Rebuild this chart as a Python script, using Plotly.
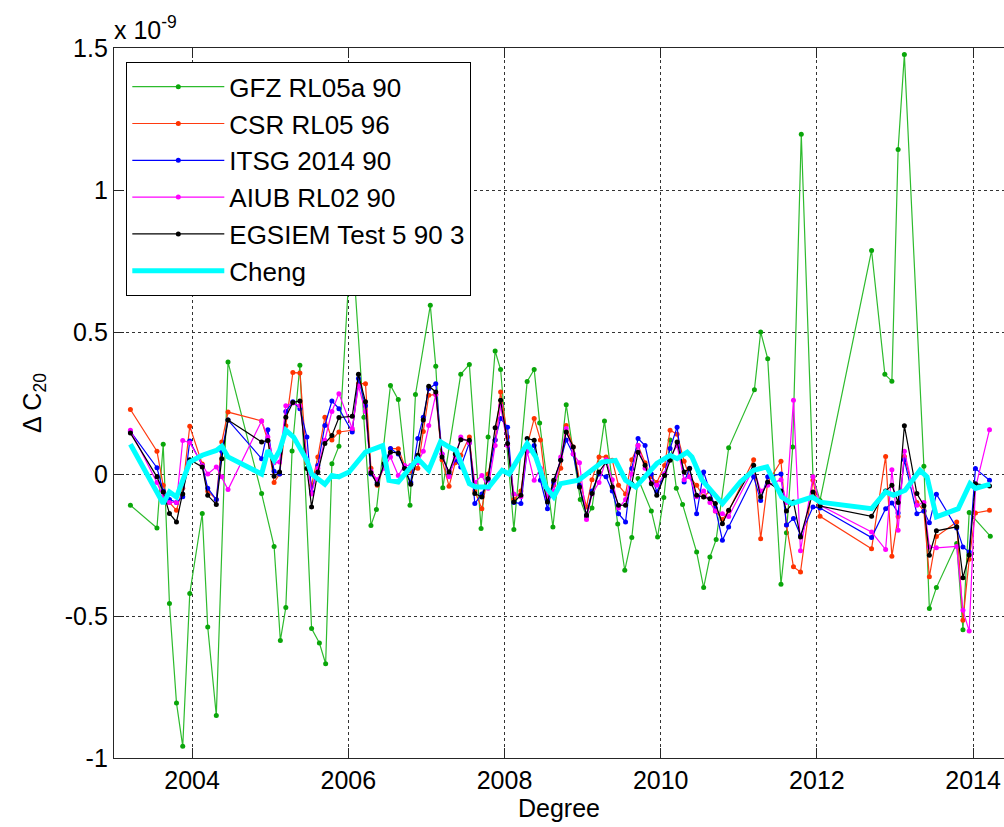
import plotly.graph_objects as go

# ---------------- data (values in units of 1e-9) ----------------
gfz_t = [2003.21, 2003.55, 2003.63, 2003.71, 2003.80, 2003.88, 2003.97, 2004.13, 2004.20, 2004.31,
         2004.46, 2004.89, 2005.05, 2005.13, 2005.20, 2005.28, 2005.38, 2005.53, 2005.63, 2005.71,
         2005.79, 2005.88, 2006.04, 2006.20, 2006.29, 2006.36, 2006.54, 2006.64, 2006.79, 2006.86,
         2007.05, 2007.12, 2007.21, 2007.44, 2007.55, 2007.70, 2007.79, 2007.88, 2007.95, 2008.12,
         2008.29, 2008.38, 2008.45, 2008.62, 2008.79, 2008.97, 2009.05, 2009.12, 2009.28, 2009.45,
         2009.54, 2009.63, 2009.71, 2009.88, 2009.96, 2010.04, 2010.12, 2010.20, 2010.28, 2010.46,
         2010.55, 2010.63, 2010.71, 2010.87, 2011.20, 2011.28, 2011.37, 2011.54, 2011.61, 2011.69,
         2011.80, 2011.95, 2012.04, 2012.70, 2012.87, 2012.96, 2013.04, 2013.12, 2013.37, 2013.44,
         2013.53, 2013.79, 2013.87, 2013.95, 2014.22]
gfz_v = [-0.110, -0.190, 0.105, -0.456, -0.806, -0.959, -0.421, -0.139, -0.539, -0.850,
         0.394, -0.069, -0.255, -0.586, -0.470, 0.081, 0.383, -0.544, -0.595, -0.668,
         0.036, 0.098, 0.850, 0.200, -0.181, -0.125, 0.312, 0.262, -0.110, 0.280,
         0.594, 0.379, -0.048, 0.351, 0.386, -0.192, 0.130, 0.433, 0.368, -0.195,
         0.326, 0.368, 0.180, -0.187, 0.244, -0.090, -0.150, -0.120, 0.187, -0.176,
         -0.339, -0.224, -0.016, -0.130, -0.222, -0.083, 0.120, -0.050, -0.107, -0.275,
         -0.400, -0.292, -0.231, 0.092, 0.297, 0.500, 0.406, -0.388, -0.207, 0.095,
         1.196, -0.010, -0.093, 0.787, 0.351, 0.327, 1.143, 1.477, 0.027, -0.474,
         -0.400, -0.245, -0.548, -0.136, -0.219]

# common monthly epochs for CSR / ITSG / AIUB / EGSIEM
sol_t = [2003.21, 2003.55, 2003.63, 2003.71, 2003.80, 2003.88, 2003.97, 2004.13, 2004.20, 2004.31,
         2004.38, 2004.46, 2004.89, 2004.97, 2005.05, 2005.12, 2005.20, 2005.29, 2005.38, 2005.47,
         2005.53, 2005.61, 2005.70, 2005.79, 2005.88, 2006.05, 2006.13, 2006.22, 2006.29, 2006.37,
         2006.46, 2006.54, 2006.64, 2006.72, 2006.80, 2006.89, 2006.96, 2007.03, 2007.12, 2007.20,
         2007.29, 2007.37, 2007.44, 2007.55, 2007.62, 2007.71, 2007.79, 2007.88, 2007.95, 2008.04,
         2008.12, 2008.21, 2008.29, 2008.38, 2008.46, 2008.55, 2008.63, 2008.72, 2008.79, 2008.88,
         2008.96, 2009.05, 2009.12, 2009.21, 2009.30, 2009.38, 2009.46, 2009.55, 2009.63, 2009.71,
         2009.80, 2009.88, 2009.95, 2010.05, 2010.12, 2010.21, 2010.30, 2010.37, 2010.46, 2010.55,
         2010.63, 2010.70, 2010.79, 2010.87, 2011.19, 2011.28, 2011.37, 2011.54, 2011.61, 2011.70,
         2011.79, 2011.95, 2012.04, 2012.70, 2012.88, 2012.96, 2013.04, 2013.12, 2013.28, 2013.37,
         2013.44, 2013.53, 2013.79, 2013.87, 2013.95, 2014.03, 2014.21]

csr_v = [0.227, 0.080, -0.040, -0.100, -0.128, -0.050, 0.168, 0.035, -0.060, -0.090,
         0.113, 0.218, 0.187, 0.118, -0.030, 0.000, 0.170, 0.357, 0.356, 0.040,
         -0.040, 0.060, 0.200, 0.120, 0.148, 0.154, 0.318, 0.318, 0.020, -0.040,
         0.030, 0.089, 0.089, 0.030, 0.010, 0.020, 0.150, 0.277, 0.280, 0.050,
         -0.043, 0.040, 0.066, 0.130, -0.060, -0.122, 0.000, 0.120, 0.289, 0.130,
         -0.090, -0.060, 0.100, 0.195, 0.120, -0.090, -0.040, 0.020, 0.171, 0.095,
         -0.020, -0.116, -0.020, 0.060, 0.060, 0.048, -0.040, -0.070, 0.050, 0.100,
         0.040, -0.010, -0.030, 0.030, 0.154, 0.140, 0.045, -0.010, -0.040, -0.080,
         -0.060, -0.130, -0.160, -0.130, 0.050, -0.228, -0.030, 0.045, -0.180, -0.327,
         -0.345, -0.022, -0.149, -0.263, 0.062, -0.290, -0.150, 0.062, -0.100, -0.130,
         -0.362, -0.220, -0.169, -0.515, -0.300, -0.137, -0.128]

itsg_v = [0.150, 0.022, -0.060, -0.090, -0.100, -0.080, 0.116, 0.030, -0.050, -0.090,
          0.080, 0.190, 0.054, 0.156, 0.010, 0.000, 0.220, 0.254, 0.230, 0.130,
          -0.063, 0.030, 0.171, 0.257, 0.230, 0.148, 0.336, 0.240, 0.000, -0.030,
          0.030, 0.090, 0.070, 0.020, -0.030, 0.125, 0.200, 0.300, 0.318, 0.070,
          0.000, 0.050, 0.025, 0.110, -0.104, -0.070, -0.020, 0.120, 0.195, 0.165,
          -0.100, -0.104, 0.080, 0.100, -0.022, -0.122, -0.030, 0.050, 0.120, 0.070,
          -0.040, -0.145, -0.060, 0.000, -0.010, -0.060, -0.140, -0.169, 0.019, 0.125,
          0.100, 0.000, -0.063, 0.000, 0.090, 0.165, -0.028, 0.020, -0.140, 0.007,
          -0.060, -0.120, -0.233, -0.187, -0.010, -0.093, -0.010, 0.000, -0.180, -0.157,
          -0.216, -0.116, -0.120, -0.224, -0.122, -0.102, -0.137, 0.050, -0.140, -0.130,
          -0.172, -0.071, -0.190, -0.257, -0.275, 0.019, -0.022]

aiub_v = [0.154, -0.030, -0.080, -0.100, -0.100, 0.118, 0.110, 0.030, 0.000, 0.025,
          -0.010, -0.055, 0.187, 0.130, 0.040, 0.042, 0.240, 0.250, 0.240, 0.050,
          -0.070, 0.020, 0.119, 0.220, 0.283, 0.160, 0.310, 0.220, 0.010, -0.020,
          0.020, 0.060, -0.005, 0.030, 0.030, 0.040, 0.080, 0.171, 0.280, 0.070,
          -0.010, 0.060, 0.130, 0.110, -0.030, -0.005, -0.050, 0.100, 0.240, 0.100,
          -0.070, -0.080, 0.080, -0.022, 0.020, -0.080, -0.060, 0.060, 0.160, 0.070,
          0.040, -0.160, -0.070, -0.030, 0.050, -0.020, -0.120, -0.090, 0.000, 0.100,
          0.020, -0.030, -0.040, 0.000, 0.060, 0.100, -0.020, -0.010, -0.080, -0.060,
          -0.100, -0.130, -0.140, -0.150, 0.020, -0.060, -0.040, -0.020, -0.100, 0.260,
          -0.270, -0.010, -0.110, -0.204, -0.266, 0.015, -0.198, 0.080, -0.110, -0.100,
          -0.257, -0.260, -0.255, -0.480, -0.553, -0.050, 0.156]

egsiem_v = [0.144, -0.010, -0.063, -0.139, -0.169, -0.070, 0.050, 0.025, -0.075, -0.107,
            0.054, 0.190, 0.113, 0.118, -0.008, 0.007, 0.200, 0.252, 0.257, 0.019,
            -0.116, 0.007, 0.107, 0.136, 0.199, 0.203, 0.351, 0.254, 0.004, -0.036,
            0.037, 0.077, 0.074, 0.019, -0.036, 0.066, 0.190, 0.309, 0.289, 0.060,
            0.007, 0.070, 0.121, 0.119, -0.069, -0.081, -0.016, 0.163, 0.260, 0.107,
            -0.099, -0.075, 0.125, 0.119, 0.007, -0.099, -0.022, 0.048, 0.148, 0.095,
            -0.046, -0.145, -0.069, 0.007, 0.042, -0.046, -0.110, -0.110, -0.034, 0.077,
            0.031, -0.034, -0.075, -0.005, 0.048, 0.113, 0.007, 0.019, -0.075, -0.081,
            -0.087, -0.104, -0.175, -0.128, 0.031, -0.081, -0.028, -0.060, -0.130, -0.099,
            -0.222, -0.063, -0.113, -0.149, -0.060, -0.040, -0.100, 0.170, -0.069, -0.112,
            -0.286, -0.200, -0.186, -0.365, -0.285, -0.034, -0.042]

cheng_t = [2003.21, 2003.63, 2003.71, 2003.80, 2003.97, 2004.13, 2004.31, 2004.38, 2004.46, 2004.89,
           2004.97, 2005.05, 2005.12, 2005.20, 2005.30, 2005.47, 2005.53, 2005.70, 2005.79, 2005.88,
           2006.01, 2006.22, 2006.44, 2006.52, 2006.64, 2006.72, 2006.89, 2007.03, 2007.18, 2007.29,
           2007.38, 2007.55, 2007.63, 2007.80, 2007.97, 2008.06, 2008.29, 2008.40, 2008.53, 2008.63,
           2008.72, 2008.95, 2009.08, 2009.25, 2009.42, 2009.55, 2009.68, 2009.80, 2009.95, 2010.12,
           2010.21, 2010.34, 2010.40, 2010.53, 2010.79, 2011.02, 2011.19, 2011.36, 2011.45, 2011.55,
           2011.68, 2011.81, 2011.94, 2012.04, 2012.70, 2012.88, 2012.98, 2013.13, 2013.32, 2013.41,
           2013.53, 2013.81, 2013.96, 2014.03, 2014.22]
cheng_v = [0.105, -0.104, -0.063, -0.081, 0.042, 0.066, 0.083, 0.098, 0.060, 0.000,
           0.083, 0.048, 0.083, 0.154, 0.130, 0.048, 0.000, -0.036, -0.005, -0.010,
           0.007, 0.077, 0.100, -0.022, -0.028, 0.000, 0.054, 0.013, 0.113, 0.095,
           0.083, -0.034, -0.046, -0.046, 0.013, 0.000, 0.107, 0.060, -0.046, -0.081,
           -0.034, -0.022, 0.007, 0.042, 0.048, -0.022, -0.046, -0.010, 0.037, 0.066,
           0.054, 0.077, 0.060, -0.022, -0.104, -0.028, 0.013, 0.025, -0.022, -0.081,
           -0.104, -0.093, -0.081, -0.099, -0.122, -0.063, -0.075, -0.057, 0.013, -0.010,
           -0.151, -0.122, -0.034, -0.051, -0.036]

x_ticks = [2004, 2006, 2008, 2010, 2012, 2014]
y_ticks = [-1, -0.5, 0, 0.5, 1, 1.5]
y_tick_labels = ["-1", "-0.5", "0", "0.5", "1", "1.5"]

for a in (csr_v, itsg_v, aiub_v, egsiem_v):
    assert len(a) == len(sol_t), len(a)
assert len(gfz_t) == len(gfz_v)
assert len(cheng_t) == len(cheng_v)

# ---------------- figure ----------------
FONT = "Liberation Sans, Arial, sans-serif"
W, H = 1004, 827
ML, MR, MT, MB = 114, 0, 48, 69
px_per_year = 78.1
x0 = 2003.0
x1 = x0 + (W - ML - MR) / px_per_year

fig = go.Figure()

def add_series(x, y, name, lcolor, mcolor):
    fig.add_trace(go.Scatter(
        x=x, y=y, name=name, mode="lines+markers",
        line=dict(color=lcolor, width=1.2),
        marker=dict(color=mcolor, size=5, symbol="circle"),
    ))

add_series(gfz_t, gfz_v, "GFZ RL05a 90", "#2dbb2d", "#0aa60a")
add_series(sol_t, csr_v, "CSR RL05 96", "#ff3a10", "#ff3300")
add_series(sol_t, itsg_v, "ITSG 2014 90", "#0000ff", "#0000ff")
add_series(sol_t, aiub_v, "AIUB RL02 90", "#ff00ff", "#ff00ff")
add_series(sol_t, egsiem_v, "EGSIEM Test 5 90 3", "#000000", "#000000")

fig.add_trace(go.Scatter(
    x=cheng_t, y=cheng_v, name="Cheng", mode="lines",
    line=dict(color="#00ffff", width=5),
))

axis_common = dict(
    showgrid=True, gridcolor="#333333", griddash="dot", gridwidth=1,
    showline=True, linecolor="#262626", linewidth=1.3,
    ticks="inside", ticklen=10, tickcolor="#262626", tickwidth=1.3,
    tickfont=dict(family=FONT, size=25, color="#000000"),
    zeroline=False,
)

fig.update_xaxes(
    range=[x0, x1], tickvals=x_ticks, ticktext=[str(v) for v in x_ticks],
    mirror="ticks",
    title=dict(text="Degree", font=dict(family=FONT, size=25, color="#000000"), standoff=6),
    **axis_common,
)
fig.update_yaxes(
    range=[-1, 1.5], tickvals=y_ticks, ticktext=y_tick_labels,
    mirror=False,
    title=dict(text="Δ C<sub>20</sub>", font=dict(family=FONT, size=25, color="#000000"), standoff=16),
    **axis_common,
)

fig.add_annotation(
    xref="paper", yref="paper", x=0.0, y=1.0, xanchor="left", yanchor="bottom",
    text="x 10<sup>-9</sup>", showarrow=False, yshift=2, xshift=-2,
    font=dict(family=FONT, size=25, color="#000000"),
)

fig.update_layout(
    width=W, height=H,
    margin=dict(l=ML, r=MR, t=MT, b=MB, pad=0),
    paper_bgcolor="white", plot_bgcolor="white",
    showlegend=True,
    legend=dict(
        x=(126 - ML) / (W - ML - MR), y=(H - MB - 62) / (H - MB - MT),
        xanchor="left", yanchor="top",
        bgcolor="white", bordercolor="#000000", borderwidth=1.3,
        font=dict(family=FONT, size=26, color="#000000"),
        itemwidth=92, tracegroupgap=0,
    ),
)

fig.write_html("out.html")
